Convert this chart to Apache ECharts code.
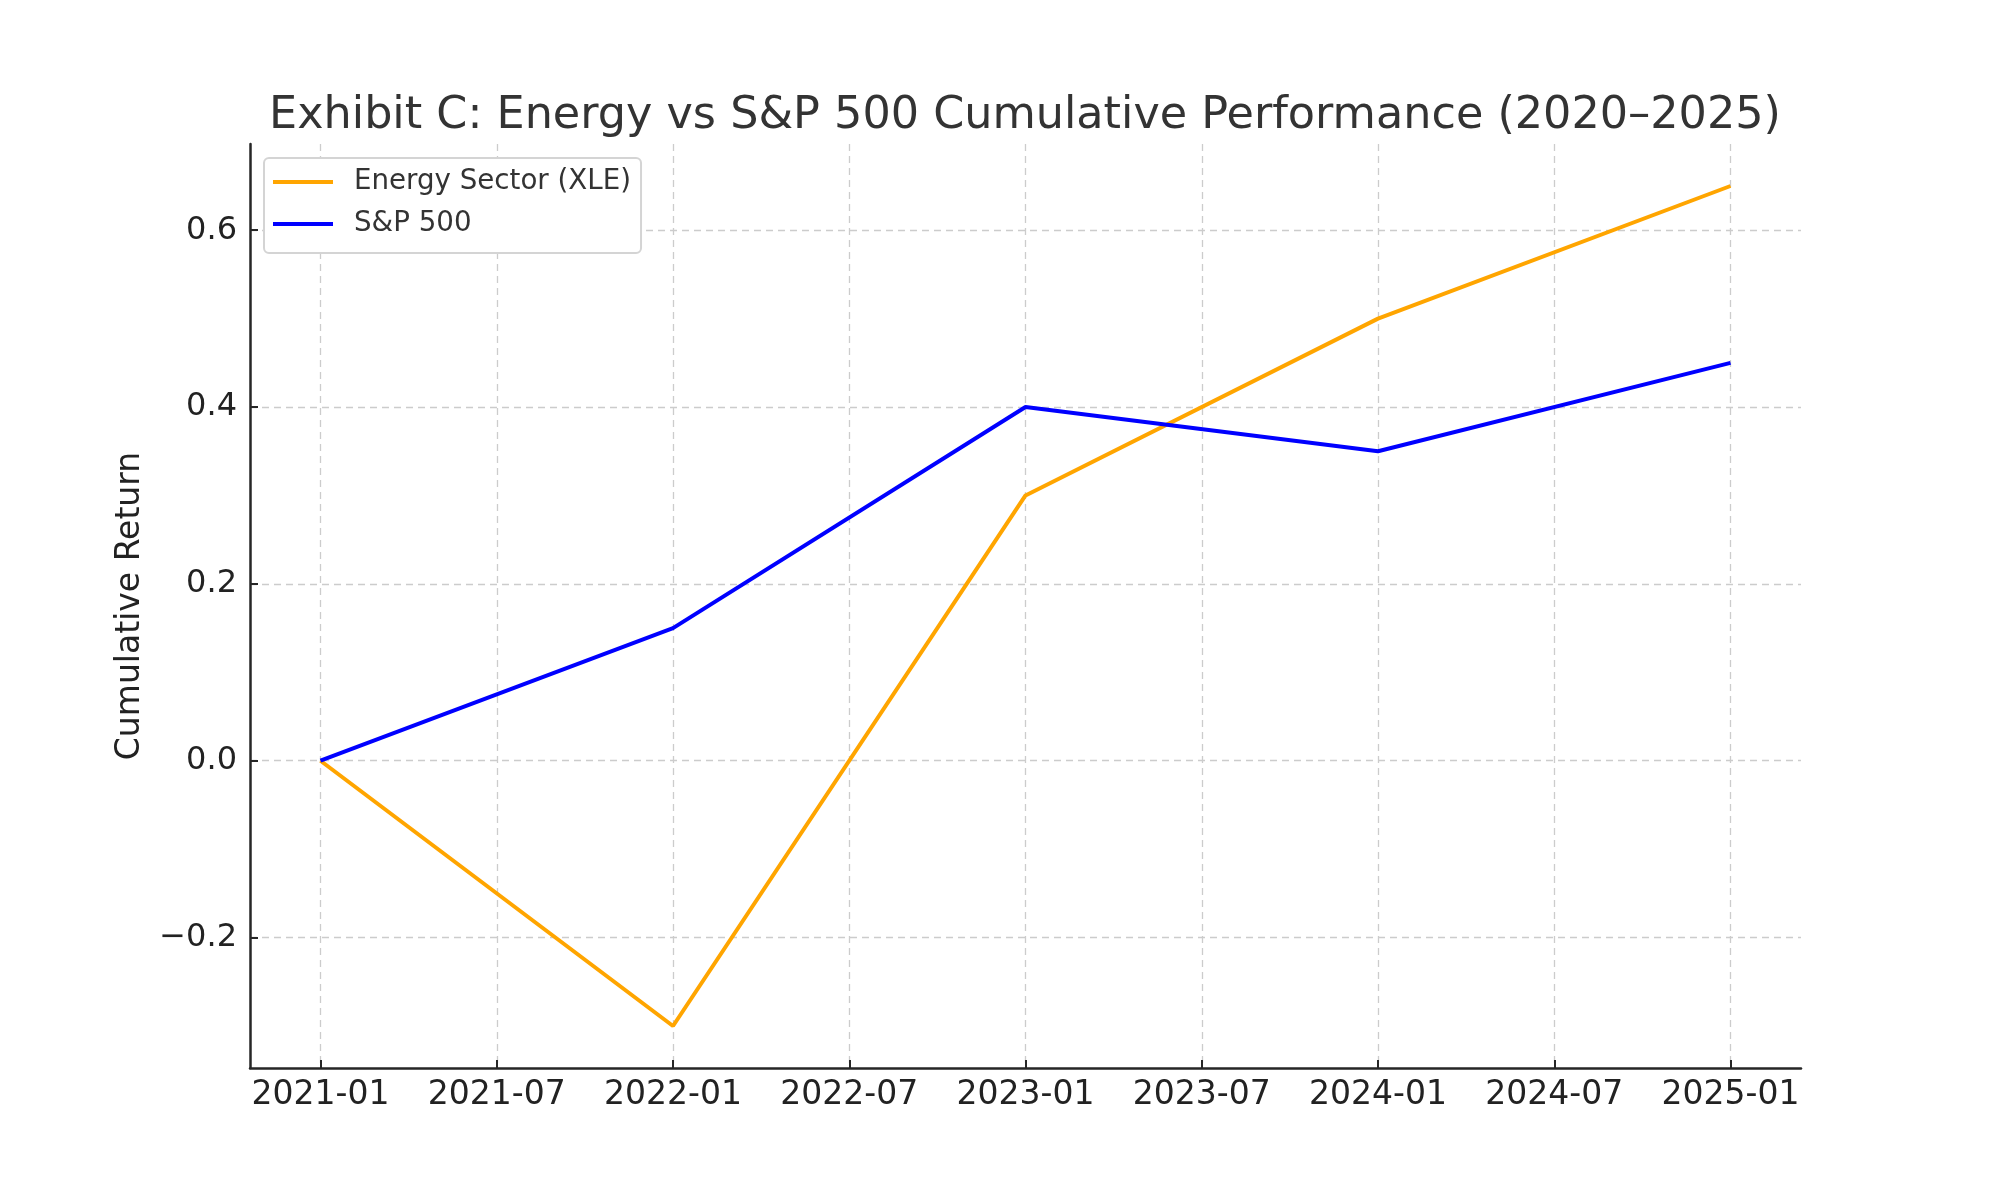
<!DOCTYPE html>
<html>
<head>
<meta charset="utf-8">
<script src="https://cdn.jsdelivr.net/npm/echarts@6/dist/echarts.min.js"></script>
<style>html,body{margin:0;padding:0;background:#fff;}#c{width:2000px;height:1200px;}</style>
</head>
<body>
<div id="c"></div>
<script>
var dates = ['2021-01-01', '2022-01-01', '2023-01-01', '2024-01-01', '2025-01-01'];
var energy = [0.0, -0.30, 0.30, 0.50, 0.65];
var sp500 = [0.0, 0.15, 0.40, 0.35, 0.45];
var xTickLabels = ['2021-01', '2021-07', '2022-01', '2022-07', '2023-01', '2023-07', '2024-01', '2024-07', '2025-01'];
var yTicks = [-0.2, 0.0, 0.2, 0.4, 0.6];

function monthIndex(d) {
  var p = d.split('-');
  return (parseInt(p[0], 10) - 2021) * 12 + (parseInt(p[1], 10) - 1);
}
function labelToMonth(s) { return monthIndex(s + '-01'); }
function monthToLabel(m) {
  var y = 2021 + Math.floor(m / 12);
  var mm = (m % 12) + 1;
  return y + '-' + (mm < 10 ? '0' + mm : mm);
}
var xTicks = xTickLabels.map(labelToMonth);
var xMin = -0.05 * 48, xMax = 48 + 0.05 * 48;
var yMin = -0.30 - 0.05 * 0.95, yMax = 0.65 + 0.05 * 0.95;

var font = 'DejaVu Sans';
var chart = echarts.init(document.getElementById('c'), null, {renderer: 'canvas'});
chart.setOption({
  backgroundColor: '#ffffff',
  animation: false,
  title: {
    text: 'Exhibit C: Energy vs S&P 500 Cumulative Performance (2020\u20132025)',
    left: 1020, top: 89, textAlign: 'center',
    textStyle: {fontFamily: font, fontSize: 44.5, fontWeight: 'normal', color: '#333333'}
  },
  legend: {
    orient: 'vertical', left: 264, top: 158,
    backgroundColor: '#ffffff', borderColor: '#d4d4d4', borderWidth: 2, borderRadius: 5,
    padding: [8, 10, 13, 9], itemGap: 10,
    itemWidth: 60, itemHeight: 4, icon: 'rect',
    textStyle: {fontFamily: font, fontSize: 27.7, color: '#333333', lineHeight: 32, padding: [0, 0, 0, 16]},
    data: ['Energy Sector (XLE)', 'S&P 500']
  },
  grid: {left: 250, right: 199, top: 144, bottom: 132, containLabel: false},
  xAxis: {
    type: 'value', min: xMin, max: xMax,
    axisLine: {show: true, onZero: false, lineStyle: {color: '#262626', width: 2.5}},
    axisTick: {show: true, inside: true, length: 8, customValues: xTicks, lineStyle: {color: '#262626', width: 2}},
    axisLabel: {customValues: xTicks, margin: 11, fontFamily: font, fontSize: 33, color: '#222222',
      formatter: function (v) { return monthToLabel(Math.round(v)); }},
    splitLine: {show: true, lineStyle: {color: '#cccccc', width: 1.3, type: [7, 5]}}
  },
  yAxis: {
    type: 'value', min: yMin, max: yMax,
    name: 'Cumulative Return', nameLocation: 'middle', nameGap: 103,
    nameTextStyle: {fontFamily: font, fontSize: 33, color: '#222222'},
    axisLine: {show: true, onZero: false, lineStyle: {color: '#262626', width: 2.5}},
    axisTick: {show: true, inside: true, length: 8, customValues: yTicks, lineStyle: {color: '#262626', width: 2}},
    axisLabel: {customValues: yTicks, margin: 13, fontFamily: font, fontSize: 32, color: '#222222',
      formatter: function (v) { var s = Math.abs(v).toFixed(1); return (v < -1e-9 ? '\u2212' : '') + s; }},
    splitLine: {show: true, lineStyle: {color: '#cccccc', width: 1.3, type: [7, 5]}}
  },
  series: [
    {name: 'Energy Sector (XLE)', type: 'line', symbol: 'none', color: '#FFA500',
      lineStyle: {width: 4, color: '#FFA500'},
      data: dates.map(function (d, i) { return [monthIndex(d), energy[i]]; })},
    {name: 'S&P 500', type: 'line', symbol: 'none', color: '#0000FF',
      lineStyle: {width: 4, color: '#0000FF'},
      data: dates.map(function (d, i) { return [monthIndex(d), sp500[i]]; })}
  ]
});
</script>
</body>
</html>
